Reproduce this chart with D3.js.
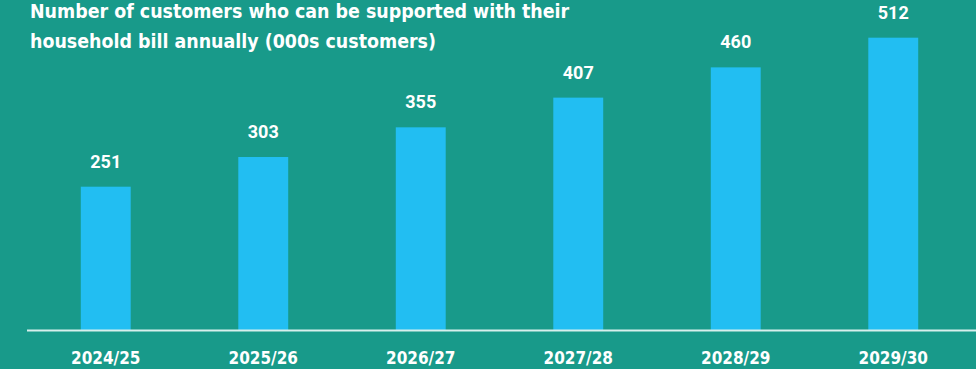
<!DOCTYPE html>
<html>
<head>
<meta charset="utf-8">
<script src="https://cdn.jsdelivr.net/npm/d3@7"></script>
<style>
  body { margin: 0; background: #189a8a; }
  svg { display: block; }
</style>
</head>
<body>
<div id="chart"></div>
<script>
// chart data
var years = ["2024/25", "2025/26", "2026/27", "2027/28", "2028/29", "2029/30"];
var customers = [251, 303, 355, 407, 460, 512];
var titleLines = [
  "Number of customers who can be supported with their",
  "household bill annually (000s customers)"
];

var width = 976, height = 369;
var baseline = 330;

var svg = d3.select("#chart").append("svg")
  .attr("width", width)
  .attr("height", height);

svg.append("rect")
  .attr("width", width)
  .attr("height", height)
  .attr("fill", "#189a8a");

// x band scale, bars are ~50px wide on a ~157px step
var xScale = d3.scaleBand()
  .domain(years)
  .range([27, 972])
  .paddingInner(0.683)
  .paddingOuter(0.3415);

var yScale = d3.scaleLinear()
  .domain([0, 578])
  .range([baseline, 0]);

var data = years.map(function(y, i) { return {year: y, value: customers[i]}; });

svg.selectAll(".bar")
  .data(data)
  .enter()
  .append("rect")
  .attr("class", "bar")
  .attr("x", function(d) { return xScale(d.year); })
  .attr("y", function(d) { return yScale(d.value); })
  .attr("width", xScale.bandwidth())
  .attr("height", function(d) { return baseline - yScale(d.value); })
  .attr("fill", "#22bef2");

// value labels above bars
svg.selectAll(".val")
  .data(data)
  .enter()
  .append("text")
  .attr("class", "val")
  .attr("x", function(d) { return xScale(d.year) + xScale.bandwidth() / 2; })
  .attr("y", function(d) { return yScale(d.value) - 19; })
  .attr("text-anchor", "middle")
  .attr("fill", "#ffffff")
  .style("font-family", "Roboto, sans-serif")
  .style("font-weight", "bold")
  .style("font-size", "18px")
  .text(function(d) { return d.value; });

// bottom axis, just the line and labels
var axisBottom = d3.axisBottom(xScale).tickSize(0).tickPadding(0);
var axisG = svg.append("g")
  .attr("transform", "translate(0," + baseline + ")")
  .call(axisBottom);
axisG.select(".domain").remove();
axisG.selectAll("text")
  .attr("y", 34)
  .attr("dy", null)
  .attr("fill", "#ffffff")
  .style("font-family", "'DejaVu Sans Condensed', sans-serif")
  .style("font-weight", "bold")
  .style("font-size", "17px");

svg.append("line")
  .attr("x1", 27)
  .attr("x2", width)
  .attr("y1", baseline + 0.5)
  .attr("y2", baseline + 0.5)
  .attr("stroke", "#d6efec")
  .attr("stroke-width", 2);

// title
svg.selectAll(".title")
  .data(titleLines)
  .enter()
  .append("text")
  .attr("class", "title")
  .attr("x", 30)
  .attr("y", function(d, i) { return 18 + i * 30; })
  .attr("fill", "#ffffff")
  .style("font-family", "'DejaVu Sans Condensed', sans-serif")
  .style("font-weight", "bold")
  .style("font-size", "19.4px")
  .text(function(d) { return d; });
</script>
</body>
</html>
